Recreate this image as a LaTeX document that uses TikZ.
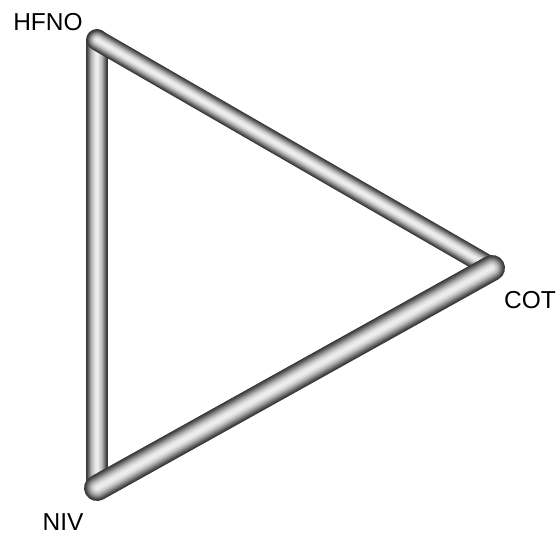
\documentclass[tikz,border=0pt]{standalone}
\usepackage{fontspec}
\setmainfont{Liberation Sans}
\usetikzlibrary{positioning,calc}
\tikzset{
    every picture/.style={line cap=round,line join=round},
    vertex/.style={inner sep=0pt,minimum size=0pt,outer sep=0pt},
    tag/.style={font=\fontsize{24.5}{28}\selectfont,inner sep=0pt,text=black}
}
% tube drawn as stacked strokes: dark rim, light core
\newcommand{\tubeedge}[3]{%
  \foreach \k in {0,...,19}{
    \pgfmathsetmacro{\rr}{1-\k/20.5}
    \pgfmathsetmacro{\wd}{#1*\rr}
    \pgfmathtruncatemacro{\shade}{22+72*(1-\rr*\rr)^1.4}
    \draw[line width=\wd pt,draw=white!\shade!black] (#2) -- (#3);
  }
}
\begin{document}
\begin{tikzpicture}[x=1pt,y=-1pt]
  \useasboundingbox (0,0) rectangle (557,537);
  \node[vertex] (hv) at (97,40) {};
  \node[vertex] (cv) at (492,268) {};
  \node[vertex] (nv) at (97,488) {};
  \tubeedge{22}{hv}{nv}
  \tubeedge{21}{hv}{cv}
  \tubeedge{26}{nv}{cv}
  \node[tag] (hfno) at (48,22) {HFNO};
  \node[tag] (cot) at (530,300) {COT};
  \node[tag] (niv) at (63,522) {NIV};
\end{tikzpicture}
\end{document}
